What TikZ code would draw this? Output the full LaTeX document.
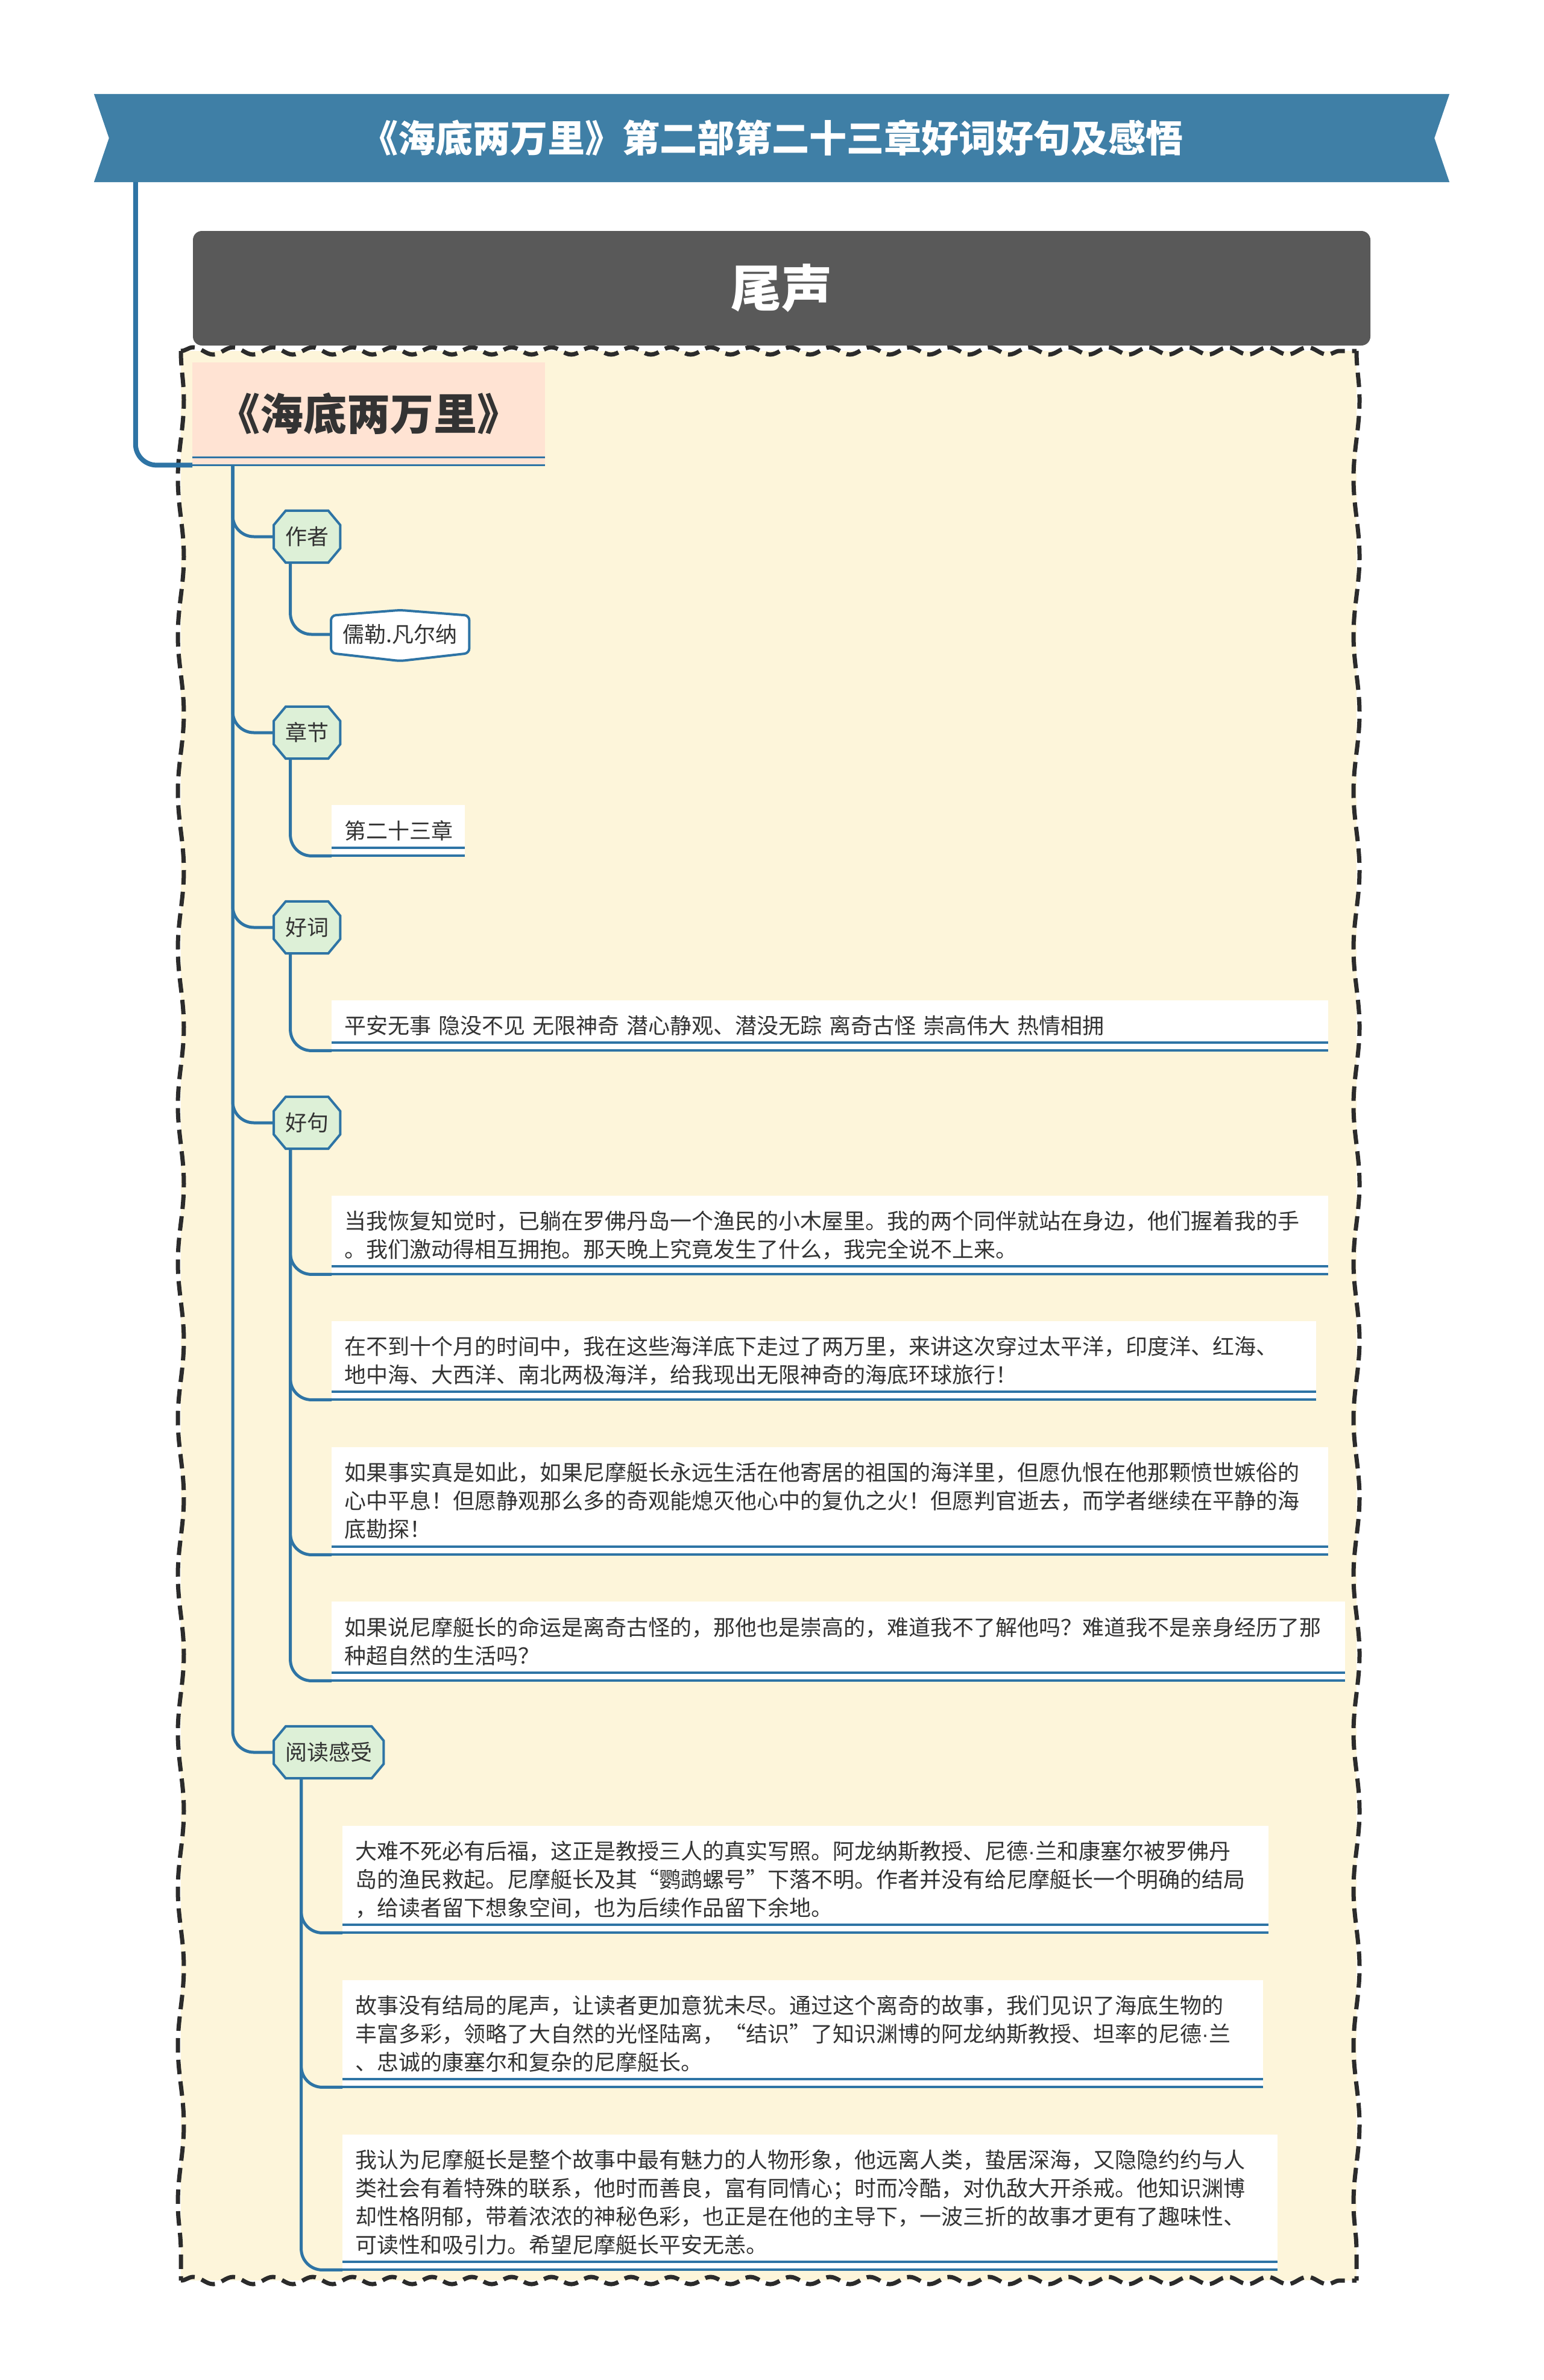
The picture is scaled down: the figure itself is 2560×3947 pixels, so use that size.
\documentclass[tikz,border=0pt]{standalone}
\usepackage{fontspec}
\setmainfont{Noto Sans CJK SC}
\newfontfamily\latinfont{Liberation Sans}
\newcommand\mdot{{\latinfont ·}}
\usetikzlibrary{calc,decorations.pathmorphing}
\definecolor{lineblue}{HTML}{2E74A5}
\definecolor{bannerblue}{HTML}{3F7FA6}
\definecolor{grayboxc}{HTML}{595959}
\definecolor{cream}{HTML}{FDF5DA}
\definecolor{peach}{HTML}{FFE3D3}
\definecolor{mint}{HTML}{DDF0D7}
\definecolor{txt}{HTML}{333333}
\definecolor{dashc}{HTML}{2B2B2B}
\pgfdeclarelayer{back}\pgfdeclarelayer{bg}\pgfsetlayers{back,bg,main}
\newcommand\octshape[1]{\begin{pgfonlayer}{bg}\filldraw[octo] ([xshift=20pt]#1.north west) -- ([xshift=-20pt]#1.north east) -- ([yshift=-24pt]#1.north east) -- ([yshift=24pt]#1.south east) -- ([xshift=-20pt]#1.south east) -- ([xshift=20pt]#1.south west) -- ([yshift=24pt]#1.south west) -- ([yshift=-24pt]#1.north west) -- cycle;\end{pgfonlayer}}
\newcommand\leaflines[1]{\draw[uline] (#1.south west) -- (#1.south east); \draw[uline] ([yshift=13pt]#1.south west) -- ([yshift=13pt]#1.south east);}
\begin{document}
\begin{tikzpicture}[x=1pt,y=-1pt,
 conn/.style={draw=lineblue, line width=5pt, rounded corners=35pt},
 bigconn/.style={draw=lineblue, line width=8pt, rounded corners=35pt},
 uline/.style={draw=lineblue, line width=4pt},
 lvtwo/.style={anchor=west, inner xsep=19pt, inner ysep=0pt, minimum height=86pt, font=\fontsize{36}{40}\selectfont, text=txt},
 octo/.style={fill=mint, draw=lineblue, line width=4pt},
 leaf/.style 2 args={anchor=north west, fill=white, inner xsep=21pt, inner ysep=0pt, align=left, text=txt, font=\fontsize{36}{47}\selectfont, text width=#1, minimum height=#2},
 framedash/.style={draw=dashc, line width=7pt, dash pattern=on 24pt off 12pt, decorate},
]
\useasboundingbox (0,0) rectangle (2560,3947);
\begin{pgfonlayer}{back}
\fill[white] (0,0) rectangle (2560,3947);
\fill[cream] (300,582) rectangle (2250,3782);
\draw[framedash, decoration={snake, segment length=66pt, amplitude=6pt}] (300,582) -- (2250,582);
\draw[framedash, decoration={snake, segment length=66pt, amplitude=6pt}] (300,3782) -- (2250,3782);
\draw[framedash, decoration={snake, segment length=260pt, amplitude=5pt}] (2250,582) -- (2250,3782);
\draw[framedash, decoration={snake, segment length=260pt, amplitude=5pt}] (300,582) -- (300,3782);
\end{pgfonlayer}

% title banner
\node[font=\fontsize{62}{70}\selectfont\bfseries, text=white, minimum width=2248pt, minimum height=146pt, inner sep=0pt] (title) at (1280,229) {《海底两万里》第二部第二十三章好词好句及感悟};
\begin{pgfonlayer}{bg}
\fill[bannerblue] (title.north west) -- (title.north east) -- ([xshift=-25pt]title.east) -- (title.south east) -- (title.south west) -- ([xshift=25pt]title.west) -- cycle;
\end{pgfonlayer}

% section box
\node[fill=grayboxc, rounded corners=15pt, minimum width=1953pt, minimum height=190pt, inner sep=0pt, text=white, font=\fontsize{84}{90}\selectfont\bfseries] (ws) at (1296.5,478) {尾声};

% root
\node[fill=peach, anchor=north west, minimum width=585pt, minimum height=170pt, inner sep=0pt, font=\fontsize{72}{80}\selectfont\bfseries, text=txt] (root) at (319,601) {《海底两万里》};
\draw[lineblue, line width=3pt] (root.south west) -- (root.south east);
\draw[lineblue, line width=3pt] ([yshift=13pt]root.south west) -- ([yshift=13pt]root.south east);
\draw[bigconn] ([xshift=69pt]title.south west) |- (root.south west);
\coordinate (trunk) at ([xshift=67pt]root.south west);

% level 2
\node[lvtwo] (zz) at (454,890) {作者};
\node[lvtwo] (zj) at (454,1215) {章节};
\node[lvtwo] (hc) at (454,1538) {好词};
\node[lvtwo] (hj) at (454,1862) {好句};
\node[lvtwo] (yd) at (454,2906) {阅读感受};
\octshape{zz}\octshape{zj}\octshape{hc}\octshape{hj}\octshape{yd}
\foreach \n in {zz,zj,hc,hj,yd} {\draw[conn] (trunk) |- (\n.west);}

% author
\node[anchor=west, minimum width=229pt, minimum height=62pt, inner sep=0pt, font=\fontsize{36}{40}\selectfont, text=txt] (rule) at (549,1052) {儒勒.凡尔纳};
\begin{pgfonlayer}{bg}
\filldraw[fill=white, draw=lineblue, line width=4pt, rounded corners=8pt] (rule.north west) -- ([yshift=9pt]rule.north) -- (rule.north east) -- (rule.south east) -- ([yshift=-13pt]rule.south) -- (rule.south west) -- cycle;
\end{pgfonlayer}
\draw[conn] ($(zz.south west)!0.25!(zz.south east)$) |- (rule.west);

% chapter
\node[leaf={179pt}{84pt}] (l1) at (550,1335) {第二十三章};
\leaflines{l1}
\draw[conn] ($(zj.south west)!0.25!(zj.south east)$) |- (l1.south west);

% good words
\node[leaf={1611pt}{83pt}] (l2) at (550,1659) {平安无事 隐没不见 无限神奇 潜心静观、潜没无踪 离奇古怪 崇高伟大 热情相拥};
\leaflines{l2}
\draw[conn] ($(hc.south west)!0.25!(hc.south east)$) |- (l2.south west);

% good sentences
\node[leaf={1611pt}{130pt}] (g1) at (550,1983) {当我恢复知觉时，已躺在罗佛丹岛一个渔民的小木屋里。我的两个同伴就站在身边，他们握着我的手\\。我们激动得相互拥抱。那天晚上究竟发生了什么，我完全说不上来。};
\node[leaf={1591pt}{130pt}] (g2) at (550,2191) {在不到十个月的时间中，我在这些海洋底下走过了两万里，来讲这次穿过太平洋，印度洋、红海、\\地中海、大西洋、南北两极海洋，给我现出无限神奇的海底环球旅行！};
\node[leaf={1611pt}{178pt}] (g3) at (550,2400) {如果事实真是如此，如果尼摩艇长永远生活在他寄居的祖国的海洋里，但愿仇恨在他那颗愤世嫉俗的\\心中平息！但愿静观那么多的奇观能熄灭他心中的复仇之火！但愿判官逝去，而学者继续在平静的海\\底勘探！};
\node[leaf={1639pt}{131pt}] (g4) at (550,2656) {如果说尼摩艇长的命运是离奇古怪的，那他也是崇高的，难道我不了解他吗？难道我不是亲身经历了那\\种超自然的生活吗？};
\foreach \n in {g1,g2,g3,g4} {\leaflines{\n}\draw[conn] ($(hj.south west)!0.25!(hj.south east)$) |- (\n.south west);}

% reading feelings
\node[leaf={1494pt}{177pt}] (r1) at (568,3028) {大难不死必有后福，这正是教授三人的真实写照。阿龙纳斯教授、尼德\mdot 兰和康塞尔被罗佛丹\\岛的渔民救起。尼摩艇长及其“鹦鹉螺号”下落不明。作者并没有给尼摩艇长一个明确的结局\\，给读者留下想象空间，也为后续作品留下余地。};
\node[leaf={1485pt}{177pt}] (r2) at (568,3284) {故事没有结局的尾声，让读者更加意犹未尽。通过这个离奇的故事，我们见识了海底生物的\\丰富多彩，领略了大自然的光怪陆离，“结识”了知识渊博的阿龙纳斯教授、坦率的尼德\mdot 兰\\、忠诚的康塞尔和复杂的尼摩艇长。};
\node[leaf={1509pt}{224pt}] (r3) at (568,3540) {我认为尼摩艇长是整个故事中最有魅力的人物形象，他远离人类，蛰居深海，又隐隐约约与人\\类社会有着特殊的联系，他时而善良，富有同情心；时而冷酷，对仇敌大开杀戒。他知识渊博\\却性格阴郁，带着浓浓的神秘色彩，也正是在他的主导下，一波三折的故事才更有了趣味性、\\可读性和吸引力。希望尼摩艇长平安无恙。};
\foreach \n in {r1,r2,r3} {\leaflines{\n}\draw[conn] ($(yd.south west)!0.25!(yd.south east)$) |- (\n.south west);}
\end{tikzpicture}
\end{document}
